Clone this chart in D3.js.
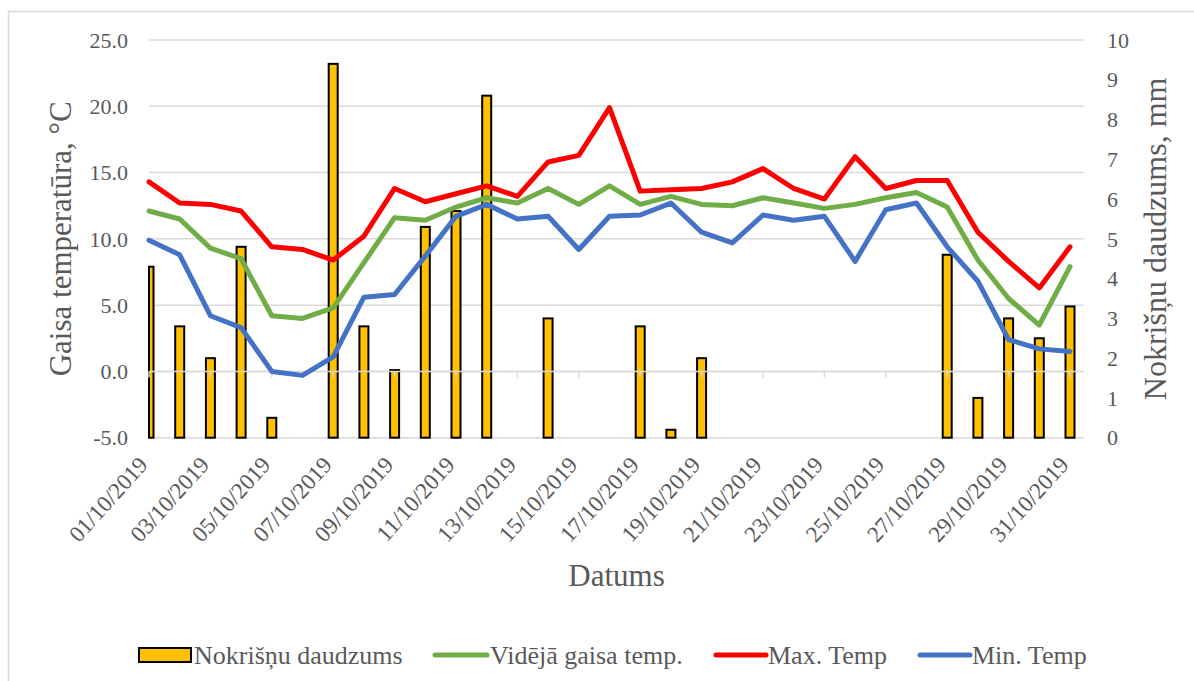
<!DOCTYPE html>
<html>
<head>
<meta charset="utf-8">
<script src="https://cdn.jsdelivr.net/npm/d3@7/dist/d3.min.js"></script>
<style>
  html, body { margin: 0; padding: 0; background: #ffffff; }
  svg { display: block; }
  text { font-family: "Liberation Serif", "Times New Roman", serif; fill: #595959; }
</style>
</head>
<body>
<svg id="chart" width="1194" height="681"></svg>
<script>
// Daily weather, October 2019
const dates = [
  "01/10/2019","02/10/2019","03/10/2019","04/10/2019","05/10/2019","06/10/2019",
  "07/10/2019","08/10/2019","09/10/2019","10/10/2019","11/10/2019","12/10/2019",
  "13/10/2019","14/10/2019","15/10/2019","16/10/2019","17/10/2019","18/10/2019",
  "19/10/2019","20/10/2019","21/10/2019","22/10/2019","23/10/2019","24/10/2019",
  "25/10/2019","26/10/2019","27/10/2019","28/10/2019","29/10/2019","30/10/2019",
  "31/10/2019"
];
// Precipitation, mm (right axis)
const precipitation = [4.3, 2.8, 2.0, 4.8, 0.5, 0, 9.4, 2.8, 1.7, 5.3, 5.7, 8.6, 0, 3.0, 0, 0,
  2.8, 0.2, 2.0, 0, 0, 0, 0, 0, 0, 0, 4.6, 1.0, 3.0, 2.5, 3.3];
// Air temperature, °C (left axis)
const avgTemp = [12.1, 11.5, 9.3, 8.5, 4.2, 4.0, 4.8, 8.2, 11.6, 11.4, 12.4, 13.1, 12.7, 13.8,
  12.6, 14.0, 12.6, 13.2, 12.6, 12.5, 13.1, 12.7, 12.3, 12.6, 13.1, 13.5, 12.4, 8.4, 5.5, 3.5, 7.9];
const maxTemp = [14.3, 12.7, 12.6, 12.1, 9.4, 9.2, 8.4, 10.2, 13.8, 12.8, 13.4, 14.0, 13.2, 15.8,
  16.3, 19.9, 13.6, 13.7, 13.8, 14.3, 15.3, 13.8, 13.0, 16.2, 13.8, 14.4, 14.4, 10.5, 8.3, 6.3, 9.4];
const minTemp = [9.9, 8.8, 4.2, 3.3, 0.0, -0.3, 1.1, 5.6, 5.8, 8.7, 11.7, 12.6, 11.5, 11.7,
  9.2, 11.7, 11.8, 12.7, 10.5, 9.7, 11.8, 11.4, 11.7, 8.3, 12.2, 12.7, 9.4, 6.8, 2.4, 1.7, 1.5];

const tempTicks = [-5, 0, 5, 10, 15, 20, 25];
const precTicks = [0, 1, 2, 3, 4, 5, 6, 7, 8, 9, 10];
const labelDates = dates.filter((d, i) => i % 2 === 0);

const seriesNames = ["Nokrišņu daudzums", "Vidējā gaisa temp.", "Max. Temp", "Min. Temp"];
const colors = { bar: "#ffc000", avg: "#70ad47", max: "#ff0000", min: "#4472c4" };

const svg = d3.select("#chart");
const plot = { left: 149, right: 1084, top: 40, bottom: 437.7 };

const x = d3.scalePoint().domain(dates).range([149, 1070]).padding(0);
const yT = d3.scaleLinear().domain([-5, 25]).range([plot.bottom, plot.top]);
const yP = d3.scaleLinear().domain([0, 10]).range([plot.bottom, plot.top]);

// outer frame
svg.append("rect").attr("x", 8.5).attr("y", 11.5).attr("width", 1200).attr("height", 700)
  .attr("fill", "none").attr("stroke", "#d9d9d9").attr("stroke-width", 1.5);

// horizontal gridlines
svg.append("g").selectAll("line").data(tempTicks).join("line")
  .attr("x1", plot.left).attr("x2", plot.right)
  .attr("y1", d => yT(d)).attr("y2", d => yT(d))
  .attr("stroke", "#d9d9d9").attr("stroke-width", 1.5);

// left axis labels (plain hyphen for negatives)
svg.append("g").selectAll("text").data(tempTicks).join("text")
  .attr("x", 128).attr("y", d => yT(d)).attr("dy", "0.35em")
  .attr("text-anchor", "end").attr("font-size", 22)
  .text(d => d.toFixed(1));

// right axis labels
svg.append("g").selectAll("text").data(precTicks).join("text")
  .attr("x", 1107).attr("y", d => yP(d)).attr("dy", "0.35em")
  .attr("text-anchor", "start").attr("font-size", 22)
  .text(d => d);

// precipitation bars
const barW = 9;
svg.append("g").selectAll("rect").data(precipitation.map((v, i) => ({ d: dates[i], v })).filter(o => o.v > 0))
  .join("rect")
  .attr("x", o => Math.max(x(o.d) - barW / 2, plot.left))
  .attr("width", o => x(o.d) + barW / 2 - Math.max(x(o.d) - barW / 2, plot.left))
  .attr("y", o => yP(o.v))
  .attr("height", o => yP(0) - yP(o.v))
  .attr("fill", colors.bar).attr("stroke", "#000").attr("stroke-width", 2);

// category axis at 0 °C with ticks on alternate days
const axisY = yT(0);
svg.append("line").attr("x1", plot.left).attr("x2", plot.right)
  .attr("y1", axisY).attr("y2", axisY).attr("stroke", "#d9d9d9").attr("stroke-width", 1.5);
svg.append("g").selectAll("line").data(labelDates).join("line")
  .attr("x1", d => x(d)).attr("x2", d => x(d))
  .attr("y1", axisY).attr("y2", axisY + 6)
  .attr("stroke", "#d9d9d9").attr("stroke-width", 1.5);

// date labels
svg.append("g").selectAll("text").data(labelDates).join("text")
  .attr("transform", d => `translate(${x(d)},${plot.bottom + 28}) rotate(-48)`)
  .attr("text-anchor", "end").attr("font-size", 23)
  .text(d => d);

// temperature lines
const line = d3.line().x((v, i) => x(dates[i])).y(v => yT(v));
[[avgTemp, colors.avg], [maxTemp, colors.max], [minTemp, colors.min]].forEach(([vals, c]) => {
  svg.append("path").datum(vals).attr("d", line)
    .attr("fill", "none").attr("stroke", c).attr("stroke-width", 5)
    .attr("stroke-linejoin", "round").attr("stroke-linecap", "round");
});

// axis titles
svg.append("text").attr("transform", `translate(71,${(plot.top + plot.bottom) / 2}) rotate(-90)`)
  .attr("text-anchor", "middle").attr("font-size", 31).text("Gaisa temperatūra, °C");
svg.append("text").attr("transform", `translate(1166,${(plot.top + plot.bottom) / 2}) rotate(-90)`)
  .attr("text-anchor", "middle").attr("font-size", 32).text("Nokrišņu daudzums, mm");
svg.append("text").attr("x", (plot.left + plot.right) / 2).attr("y", 586)
  .attr("text-anchor", "middle").attr("font-size", 31).text("Datums");

// legend
const legY = 655;
const leg = svg.append("g");
leg.append("rect").attr("x", 139).attr("y", legY - 7).attr("width", 52).attr("height", 14)
  .attr("fill", colors.bar).attr("stroke", "#000").attr("stroke-width", 2);
leg.append("text").attr("x", 194).attr("y", legY).attr("dy", "0.35em").attr("font-size", 26).text(seriesNames[0]);
const legLines = [
  { x0: 435, x1: 487, tx: 490, c: colors.avg, name: seriesNames[1] },
  { x0: 716, x1: 766, tx: 768, c: colors.max, name: seriesNames[2] },
  { x0: 920, x1: 970, tx: 972, c: colors.min, name: seriesNames[3] }
];
legLines.forEach(l => {
  leg.append("line").attr("x1", l.x0).attr("x2", l.x1).attr("y1", legY).attr("y2", legY)
    .attr("stroke", l.c).attr("stroke-width", 5).attr("stroke-linecap", "round");
  leg.append("text").attr("x", l.tx).attr("y", legY).attr("dy", "0.35em").attr("font-size", 26).text(l.name);
});
</script>
</body>
</html>
